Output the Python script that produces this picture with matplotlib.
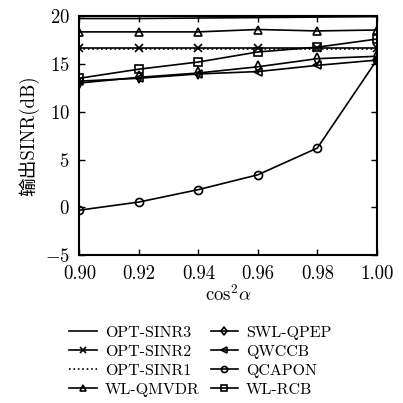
import matplotlib
matplotlib.use("Agg")
import matplotlib.pyplot as plt

plt.rcParams["font.family"] = ["cmr10", "Noto Sans CJK SC"]
plt.rcParams["mathtext.fontset"] = "cm"
plt.rcParams["axes.formatter.use_mathtext"] = True
plt.rcParams["font.size"] = 13.5

# data
x = [0.90, 0.92, 0.94, 0.96, 0.98, 1.00]
opt3 = [19.75, 19.75, 19.8, 19.85, 19.9, 19.95]
opt2 = [16.7, 16.7, 16.7, 16.7, 16.7, 16.7]
opt1 = [16.6, 16.6, 16.6, 16.6, 16.6, 16.6]
wl_qmvdr = [18.35, 18.35, 18.35, 18.6, 18.45, 18.55]
swl_qpep = [13.0, 13.6, 14.05, 14.7, 15.55, 15.8]
qwccb = [13.2, 13.5, 13.95, 14.2, 14.85, 15.4]
qcapon = [-0.3, 0.55, 1.85, 3.4, 6.2, 15.4]
wl_rcb = [13.5, 14.45, 15.2, 16.25, 16.75, 17.6]

labels = ["OPT-SINR3", "OPT-SINR2", "OPT-SINR1", "WL-QMVDR",
          "SWL-QPEP", "QWCCB", "QCAPON", "WL-RCB"]

fig = plt.figure(figsize=(4.03, 4.03), dpi=100)
ax = fig.add_axes([0.197, 0.367, 0.738, 0.593])

kw = dict(color="black", lw=1.2, markersize=5.8, markerfacecolor="none",
          markeredgewidth=1.2)
h = []
h += ax.plot(x, opt3, "-", **kw)
h += ax.plot(x, opt2, "-", marker="x", **kw)
h += ax.plot(x, opt1, ":", **kw)
h += ax.plot(x, wl_qmvdr, "-", marker="^", **kw)
h += ax.plot(x, swl_qpep, "-", marker="d", **kw)
h += ax.plot(x, qwccb, "-", marker="<", **kw)
h += ax.plot(x, qcapon, "-", marker="o", **kw)
h += ax.plot(x, wl_rcb, "-", marker="s", **kw)

ax.set_xlim(0.90, 1.00)
ax.set_ylim(-5, 20)
ax.set_xticks(x)
ax.set_xticklabels(["%.2f" % v for v in x])
ax.set_yticks([-5, 0, 5, 10, 15, 20])
ax.tick_params(direction="in", top=True, right=True, length=4, width=1, pad=7)
for s in ax.spines.values():
    s.set_linewidth(1.5)

ax.set_xlabel(r"$\mathrm{cos}^2\alpha$", labelpad=1)
ax.set_ylabel("输出SINR(dB)", labelpad=4)

fig.legend(h, labels, ncol=2, loc="upper center", bbox_to_anchor=(0.497, 0.228),
           frameon=False, fontsize=11.5, handlelength=1.7, labelspacing=0.3,
           columnspacing=0.7, handletextpad=0.5, markerscale=0.75)

fig.savefig("out.png", dpi=100)
